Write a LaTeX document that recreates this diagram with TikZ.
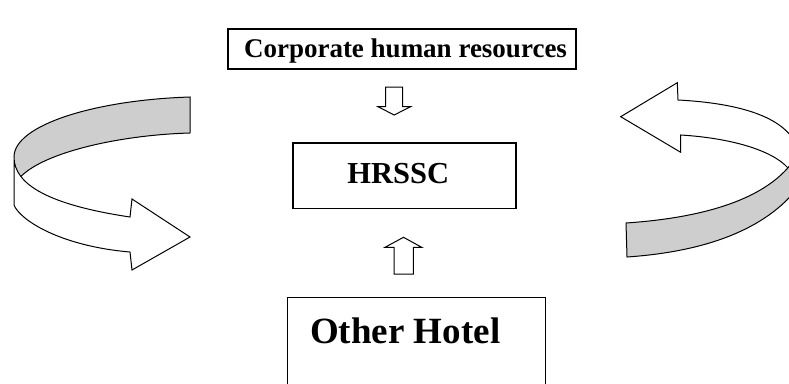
\documentclass[tikz,border=0pt]{standalone}
\usepackage{fontspec}
\setmainfont{Liberation Serif}
\definecolor{ribbon}{RGB}{206,206,206}
\begin{document}
\begin{tikzpicture}[x=1pt,y=-1pt,
  box/.style={draw, line width=1.1pt, inner sep=0pt},
  outline/.style={draw, line width=1pt, line join=miter},
  corpfont/.style={font=\fontsize{27}{32}\selectfont\bfseries, inner sep=0pt},
  hrfont/.style={font=\fontsize{30.5}{36}\selectfont\bfseries, inner sep=0pt},
  hotelfont/.style={font=\fontsize{37}{44}\selectfont\bfseries, inner sep=0pt}]
\useasboundingbox (0,0) rectangle (789,383);
\fill[white] (0,0) rectangle (789,383);
\clip (0,0) rectangle (789,383);

% boxes
\node[box, minimum width=348pt, minimum height=40pt] (corp) at (402,49) {};
\node[corpfont, anchor=base] (corptext) at (405.5,57.3) {Corporate human resources};

\node[box, minimum width=223pt, minimum height=65.5pt] (hrssc) at (404.5,175.75) {};
\node[hrfont, anchor=base] (hrtext) at (398.3,183.3) {HRSSC};

\node[box, minimum width=258pt, minimum height=150pt, anchor=north west] (hotel) at (287,297) {};
\node[hotelfont, anchor=base west] (hoteltext) at (310,343.3) {Other Hotel};

% block arrows
\draw[outline] (385.5,87) -- (402.5,87) -- (402.5,106.7) -- (410.5,106.7) -- (394.2,115)
  -- (378,106.7) -- (385.5,106.7) -- cycle;
\draw[outline] (394,274) -- (413.3,274) -- (413.3,247.3) -- (421.7,247.3) -- (403.5,237.3)
  -- (385,247.3) -- (394,247.3) -- cycle;

% left curved arrow: grey back band
\fill[ribbon] (190,97) .. controls (95,100) and (14,125) .. (14,157) -- (14,195)
  -- (20.9,176.5) .. controls (45,152) and (120,135) .. (190,133) -- cycle;
\draw[outline] (190,133) -- (190,97) .. controls (95,100) and (14,125) .. (14,157);
\draw[outline] (190,133) .. controls (120,135) and (45,152) .. (20.9,176.5);
% left curved arrow: white front band with head
\filldraw[outline, fill=white] (14,157) .. controls (14,185) and (50,205) .. (130,217)
  -- (132,199) -- (190,237) -- (132,270) -- (130,252)
  .. controls (60,246) and (20,220) .. (14,205) -- cycle;

% right curved arrow: white back band with head
\draw[outline] (795,142) .. controls (780,115) and (735,103) .. (678,100) -- (677.3,82.7)
  -- (620.7,116.7) -- (680.7,152.3) -- (680.7,135)
  .. controls (730,138) and (772,150) .. (788,168);
% right curved arrow: grey front band
\filldraw[outline, fill=ribbon] (627,257) -- (626,223) .. controls (700,218) and (775,200) .. (800,150)
  -- (800,185) .. controls (765,232) and (700,252) .. (627,257) -- cycle;
\end{tikzpicture}
\end{document}
